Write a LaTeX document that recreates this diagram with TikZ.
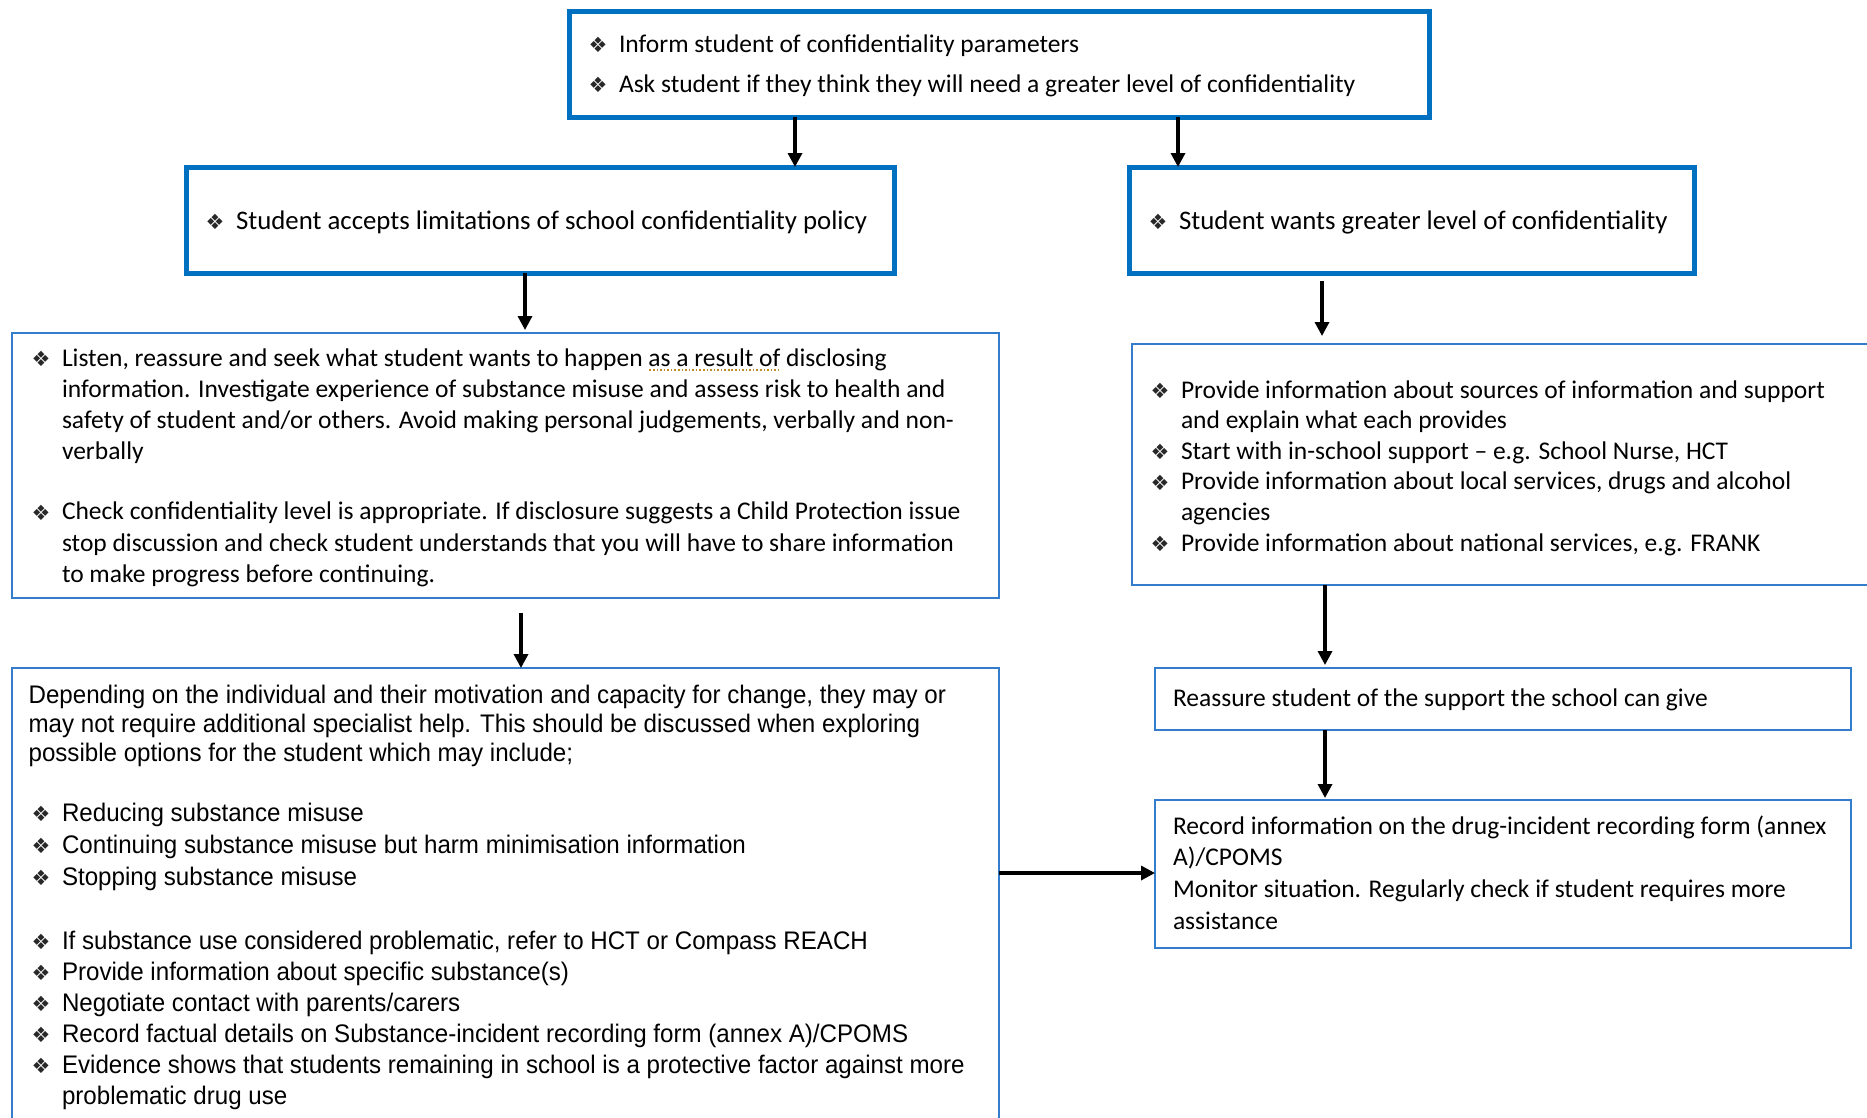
\documentclass[tikz,border=0pt]{standalone}
\usepackage{fontspec}
\setmainfont{Carlito}
\newfontfamily\arialf[FakeStretch=0.95]{Liberation Sans}
\newfontfamily\dingf{DejaVu Sans}
\usetikzlibrary{arrows.meta,calc}
\definecolor{thickblue}{RGB}{0,112,192}
\definecolor{thinblue}{RGB}{52,125,205}
\definecolor{squig}{RGB}{190,140,40}
\definecolor{bulgray}{RGB}{40,40,40}
\newcommand\bul{\raisebox{-0.5pt}{\color{bulgray}\dingf\fontsize{21}{21}\selectfont ❖}}
\newcommand\blt{\makebox[30pt][l]{\hspace{-0.5pt}\bul}}
\newcommand\dotul[1]{{\setbox0\hbox{#1}\rlap{\color{squig}\raisebox{-5pt}{\hbox to \wd0{\xleaders\hbox to 3.5pt{\hss\rule{1.6pt}{1.6pt}\hss}\hfill}}}\box0}}
\begin{document}
\begin{tikzpicture}[x=1pt,y=-1pt,
  thickbox/.style={draw=thickblue, line width=5pt, rectangle, inner sep=0pt, outer sep=0pt, anchor=north west},
  thinbox/.style={draw=thinblue, line width=2pt, rectangle, inner sep=0pt, outer sep=0pt, anchor=north west},
  txt/.style={anchor=base west, inner sep=0pt, outer sep=0pt},
  arr/.style={line width=3.3pt, -{Triangle[length=14pt,width=14pt]}}]
\useasboundingbox[fill=white] (0,0) rectangle (1867,1117);

% boxes
\node[thickbox, minimum width=860pt, minimum height=106pt] (top) at (569,11) {};
\node[thickbox, minimum width=708pt, minimum height=106pt] (acc) at (186,167) {};
\node[thickbox, minimum width=565pt, minimum height=106pt] (want) at (1129,167) {};
\node[thinbox, minimum width=987pt, minimum height=265pt] (blist) at (12,333) {};
\node[thinbox, minimum width=760pt, minimum height=241pt] (rlist) at (1132,344) {};
\node[thinbox, minimum width=987pt, minimum height=470pt] (opts) at (12,668) {};
\node[thinbox, minimum width=696pt, minimum height=62pt] (reas) at (1155,668) {};
\node[thinbox, minimum width=696pt, minimum height=148pt] (rec) at (1155,800) {};

% texts
\node[txt] (ttop) at (589,52) {\fontsize{25.5}{40}\selectfont\begin{tabular}[t]{@{}l@{}l@{}}
\blt & Inform student of confidentiality parameters\\
\blt & Ask student if they think they will need a greater level of confidentiality
\end{tabular}};
\node[txt] (tacc) at (206,229) {\fontsize{26.8}{31.3}\selectfont\blt Student accepts limitations of school confidentiality policy};
\node[txt] (twant) at (1149,229) {\fontsize{26.8}{31.3}\selectfont\blt Student wants greater level of confidentiality};
\node[txt] (tblist) at (32,366) {\fontsize{25.5}{31.3}\selectfont\begin{tabular}[t]{@{}l@{}l@{}}
\blt & Listen, reassure and seek what student wants to happen \dotul{as a result of} disclosing\\
 & information. Investigate experience of substance misuse and assess risk to health and\\
 & safety of student and/or others. Avoid making personal judgements, verbally and non-\\
 & verbally\\[28.7pt]
\blt & Check confidentiality level is appropriate. If disclosure suggests a Child Protection issue\\
 & stop discussion and check student understands that you will have to share information\\
 & to make progress before continuing.
\end{tabular}};
\node[txt] (trlist) at (1151,398) {\fontsize{25.5}{30.6}\selectfont\begin{tabular}[t]{@{}l@{}l@{}}
\blt & Provide information about sources of information and support\\
 & and explain what each provides\\
\blt & Start with in-school support -- e.g. School Nurse, HCT\\
\blt & Provide information about local services, drugs and alcohol\\
 & agencies\\
\blt & Provide information about national services, e.g. FRANK
\end{tabular}};
\node[txt] (topts) at (28.6,703) {\arialf\fontsize{25.4}{29.2}\selectfont\begin{tabular}[t]{@{}l@{}}
Depending on the individual and their motivation and capacity for change, they may or\\
may not require additional specialist help. This should be discussed when exploring\\
possible options for the student which may include;
\end{tabular}};
\node[txt] (topta) at (32,821) {\arialf\fontsize{25.4}{32}\selectfont\begin{tabular}[t]{@{}l@{}l@{}}
\blt & Reducing substance misuse\\
\blt & Continuing substance misuse but harm minimisation information\\
\blt & Stopping substance misuse
\end{tabular}};
\node[txt] (toptb) at (32,949) {\arialf\fontsize{25.4}{31}\selectfont\begin{tabular}[t]{@{}l@{}l@{}}
\blt & If substance use considered problematic, refer to HCT or Compass REACH\\
\blt & Provide information about specific substance(s)\\
\blt & Negotiate contact with parents/carers\\
\blt & Record factual details on Substance-incident recording form (annex A)/CPOMS\\
\blt & Evidence shows that students remaining in school is a protective factor against more\\
 & problematic drug use
\end{tabular}};
\node[txt] (treas) at (1173,706) {\fontsize{25.5}{31.3}\selectfont Reassure student of the support the school can give};
\node[txt] (trec) at (1173,834) {\fontsize{25.5}{31.7}\selectfont\begin{tabular}[t]{@{}l@{}}
Record information on the drug-incident recording form (annex\\
A)/CPOMS\\
Monitor situation. Regularly check if student requires more\\
assistance
\end{tabular}};

% connectors
\draw[arr] (top.south -| 795,0) -- (acc.north -| 795,0);
\draw[arr] (top.south -| 1178,0) -- (want.north -| 1178,0);
\draw[arr] (acc.south -| 525,0) -- ($(blist.north -| 525,0)+(0,-3)$);
\draw[arr] ($(want.south -| 1322,0)+(0,8)$) -- ($(rlist.north -| 1322,0)+(0,-8)$);
\draw[arr] ($(blist.south -| 521,0)+(0,15)$) -- (opts.north -| 521,0);
\draw[arr] (rlist.south -| 1325,0) -- ($(reas.north -| 1325,0)+(0,-3)$);
\draw[arr] (reas.south -| 1325,0) -- ($(rec.north -| 1325,0)+(0,-2)$);
\draw[arr] (opts.east |- 0,873) -- (rec.west |- 0,873);
\end{tikzpicture}
\end{document}
